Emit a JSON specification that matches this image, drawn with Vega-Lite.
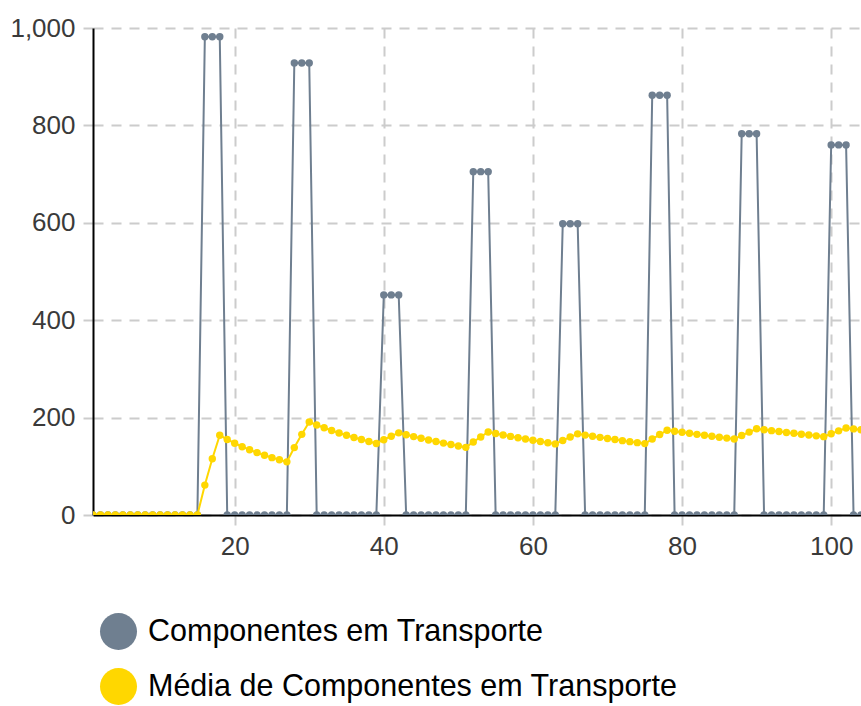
{
  "$schema": "https://vega.github.io/schema/vega-lite/v6.json",
  "width": 768,
  "height": 487,
  "autosize": "none",
  "padding": {"left": 93, "top": 28, "right": 0, "bottom": 191},
  "background": "white",
  "config": {
    "font": "Liberation Sans",
    "view": {"stroke": null},
    "axis": {
      "grid": true,
      "gridColor": "#cccccc",
      "gridWidth": 2,
      "gridDash": [10, 8],
      "tickColor": "#cccccc",
      "tickWidth": 2,
      "tickDash": [10, 8],
      "tickSize": 10,
      "domainColor": "#000000",
      "domainWidth": 2,
      "labelFont": "Liberation Sans",
      "labelFontSize": 26,
      "labelColor": "#3a3a3a",
      "labelPadding": 8,
      "title": null
    },
    "legend": {
      "orient": "none",
      "legendX": 7,
      "legendY": 585,
      "padding": 0,
      "title": null,
      "symbolType": "circle",
      "symbolSize": 1369,
      "symbolStrokeWidth": 0,
      "symbolOpacity": 1,
      "labelFont": "Liberation Sans",
      "labelFontSize": 30.5,
      "labelColor": "#000000",
      "labelOffset": 11,
      "rowPadding": 18,
      "labelLimit": 0
    }
  },
  "data": {"values": [
    {"t":1,"c":0,"m":0},{"t":2,"c":0,"m":0},{"t":3,"c":0,"m":0},{"t":4,"c":0,"m":0},{"t":5,"c":0,"m":0},
    {"t":6,"c":0,"m":0},{"t":7,"c":0,"m":0},{"t":8,"c":0,"m":0},{"t":9,"c":0,"m":0},{"t":10,"c":0,"m":0},
    {"t":11,"c":0,"m":0},{"t":12,"c":0,"m":0},{"t":13,"c":0,"m":0},{"t":14,"c":0,"m":0},{"t":15,"c":0,"m":0},
    {"t":16,"c":982,"m":61.4},{"t":17,"c":982,"m":115.5},{"t":18,"c":982,"m":163.7},
    {"t":19,"c":0,"m":155.1},{"t":20,"c":0,"m":147.3},{"t":21,"c":0,"m":140.3},{"t":22,"c":0,"m":133.9},
    {"t":23,"c":0,"m":128.1},{"t":24,"c":0,"m":122.8},{"t":25,"c":0,"m":117.8},{"t":26,"c":0,"m":113.3},{"t":27,"c":0,"m":109.1},
    {"t":28,"c":928,"m":138.4},{"t":29,"c":928,"m":165.6},{"t":30,"c":928,"m":191.0},
    {"t":31,"c":0,"m":184.8},{"t":32,"c":0,"m":179.1},{"t":33,"c":0,"m":173.6},{"t":34,"c":0,"m":168.5},
    {"t":35,"c":0,"m":163.7},{"t":36,"c":0,"m":159.2},{"t":37,"c":0,"m":154.9},{"t":38,"c":0,"m":150.8},{"t":39,"c":0,"m":146.9},
    {"t":40,"c":452,"m":154.6},{"t":41,"c":452,"m":161.8},{"t":42,"c":452,"m":168.7},
    {"t":43,"c":0,"m":164.8},{"t":44,"c":0,"m":161.0},{"t":45,"c":0,"m":157.5},{"t":46,"c":0,"m":154.0},
    {"t":47,"c":0,"m":150.8},{"t":48,"c":0,"m":147.6},{"t":49,"c":0,"m":144.6},{"t":50,"c":0,"m":141.7},{"t":51,"c":0,"m":138.9},
    {"t":52,"c":705,"m":149.8},{"t":53,"c":705,"m":160.3},{"t":54,"c":705,"m":170.4},
    {"t":55,"c":0,"m":167.3},{"t":56,"c":0,"m":164.3},{"t":57,"c":0,"m":161.4},{"t":58,"c":0,"m":158.6},
    {"t":59,"c":0,"m":155.9},{"t":60,"c":0,"m":153.4},{"t":61,"c":0,"m":150.8},{"t":62,"c":0,"m":148.4},{"t":63,"c":0,"m":146.0},
    {"t":64,"c":598,"m":153.1},{"t":65,"c":598,"m":160.0},{"t":66,"c":598,"m":166.6},
    {"t":67,"c":0,"m":164.1},{"t":68,"c":0,"m":161.7},{"t":69,"c":0,"m":159.4},{"t":70,"c":0,"m":157.1},
    {"t":71,"c":0,"m":154.9},{"t":72,"c":0,"m":152.7},{"t":73,"c":0,"m":150.6},{"t":74,"c":0,"m":148.6},{"t":75,"c":0,"m":146.6},
    {"t":76,"c":862,"m":156.0},{"t":77,"c":862,"m":165.2},{"t":78,"c":862,"m":174.1},
    {"t":79,"c":0,"m":171.9},{"t":80,"c":0,"m":169.8},{"t":81,"c":0,"m":167.7},{"t":82,"c":0,"m":165.6},
    {"t":83,"c":0,"m":163.6},{"t":84,"c":0,"m":161.7},{"t":85,"c":0,"m":159.8},{"t":86,"c":0,"m":157.9},{"t":87,"c":0,"m":156.1},
    {"t":88,"c":783,"m":163.2},{"t":89,"c":783,"m":170.2},{"t":90,"c":783,"m":177.0},
    {"t":91,"c":0,"m":175.1},{"t":92,"c":0,"m":173.2},{"t":93,"c":0,"m":171.3},{"t":94,"c":0,"m":169.5},
    {"t":95,"c":0,"m":167.7},{"t":96,"c":0,"m":165.9},{"t":97,"c":0,"m":164.2},{"t":98,"c":0,"m":162.5},{"t":99,"c":0,"m":160.9},
    {"t":100,"c":760,"m":166.9},{"t":101,"c":760,"m":172.8},{"t":102,"c":760,"m":178.5},
    {"t":103,"c":0,"m":176.8},{"t":104,"c":0,"m":175.1},{"t":105,"c":0,"m":173.4}
  ]},
  "encoding": {
    "x": {
      "field": "t",
      "type": "quantitative",
      "scale": {"domain": [1, 104], "nice": false, "zero": false},
      "axis": {"values": [20, 40, 60, 80, 100], "labelFlush": false}
    }
  },
  "layer": [
    {
      "mark": {"type": "line", "strokeWidth": 2, "clip": true, "point": {"filled": true, "size": 55, "clip": true}},
      "encoding": {
        "y": {
          "field": "c",
          "type": "quantitative",
          "scale": {"domain": [0, 1000], "nice": false},
          "axis": {"values": [0, 200, 400, 600, 800, 1000], "format": ",d", "labelFlush": false}
        },
        "color": {
          "datum": "Componentes em Transporte",
          "type": "nominal",
          "scale": {
            "domain": ["Componentes em Transporte", "Média de Componentes em Transporte"],
            "range": ["#6f7f90", "#ffd700"]
          },
          "legend": {
            "encode": {
              "symbols": {"update": {"fill": {"scale": "color", "field": "value"}, "strokeWidth": {"value": 0}, "opacity": {"value": 1}}}
            }
          }
        }
      }
    },
    {
      "mark": {"type": "line", "strokeWidth": 2, "clip": true, "point": {"filled": true, "size": 55, "clip": true}},
      "encoding": {
        "y": {"field": "m", "type": "quantitative"},
        "color": {"datum": "Média de Componentes em Transporte", "type": "nominal"}
      }
    }
  ]
}
